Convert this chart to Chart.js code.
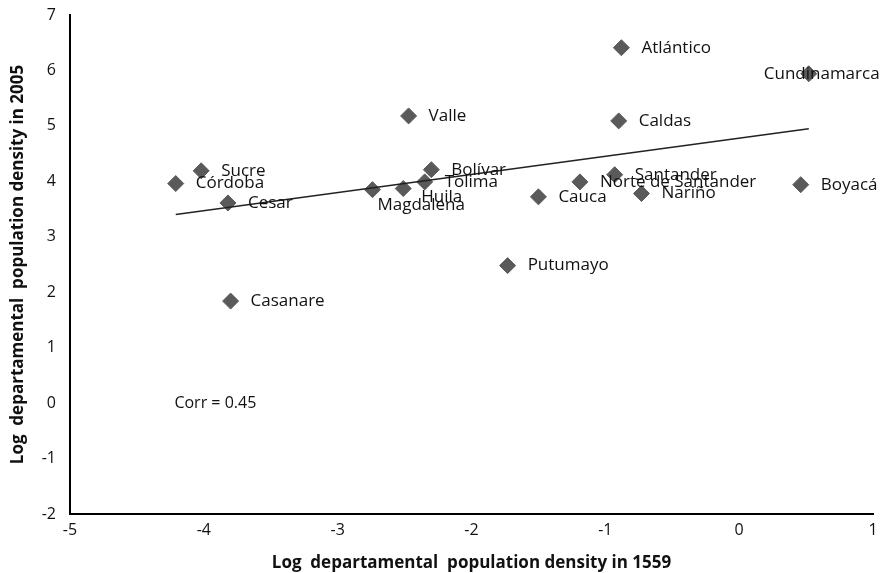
<!DOCTYPE html>
<html>
<head>
<meta charset="utf-8">
<script src="https://cdn.jsdelivr.net/npm/chart.js@4.4.1/dist/chart.umd.min.js"></script>
<style>
  html, body { margin: 0; padding: 0; background: #fff; }
  #wrap { width: 885px; height: 573px; }
</style>
</head>
<body>
<div id="wrap"><canvas id="grafico" width="885" height="573"></canvas></div>
<script>
// Departamentos y sus valores (log densidad 1559 vs 2005)
const departamentos = ['Córdoba', 'Sucre', 'Cesar', 'Casanare', 'Magdalena', 'Huila', 'Tolima', 'Bolívar', 'Valle',
    'Putumayo', 'Cauca', 'Norte de Santander', 'Santander', 'Nariño', 'Caldas', 'Atlántico', 'Cundinamarca', 'Boyacá'];
const densidad1559 = [-4.21, -4.02, -3.82, -3.80, -2.74, -2.51, -2.35, -2.30, -2.47,
    -1.73, -1.50, -1.19, -0.93, -0.73, -0.90, -0.88, 0.52, 0.46];
const densidad2005 = [3.96, 4.19, 3.61, 1.84, 3.85, 3.87, 3.99, 4.21, 5.18,
    2.48, 3.72, 3.99, 4.12, 3.78, 5.09, 6.41, 5.94, 3.94];

// Linea de tendencia (extremos)
const tendenciaX = [-4.21, 0.52];
const tendenciaY = [3.40, 4.95];

const ticksX = [-5, -4, -3, -2, -1, 0, 1];
const ticksY = [-2, -1, 0, 1, 2, 3, 4, 5, 6, 7];
const textoCorr = 'Corr = 0.45';

// Posicion de las etiquetas (desplazamiento respecto al punto)
const desplazamientos = {
    'Magdalena': { dx: 5, dy: 16 },
    'Huila': { dx: 18, dy: 9 },
    'Cundinamarca': { dx: -45, dy: 0 }
};

const fuente = '"Open Sans", "DejaVu Sans", sans-serif';

// Plugin para escribir los nombres y el texto de correlacion
const etiquetasPlugin = {
    id: 'etiquetas',
    afterDatasetsDraw(chart) {
        const ctx = chart.ctx;
        const x = chart.scales.x;
        const y = chart.scales.y;
        ctx.save();
        ctx.font = '17px ' + fuente;
        ctx.fillStyle = '#111';
        ctx.textBaseline = 'middle';
        ctx.textAlign = 'left';
        departamentos.forEach((nombre, i) => {
            const d = desplazamientos[nombre] || { dx: 20, dy: 0 };
            const px = x.getPixelForValue(densidad1559[i]);
            const py = y.getPixelForValue(densidad2005[i]);
            ctx.fillText(nombre, px + d.dx, py + d.dy);
        });
        ctx.font = '16px ' + fuente;
        ctx.fillText(textoCorr, x.getPixelForValue(-4.22), y.getPixelForValue(0));
        ctx.restore();
    }
};

const puntos = densidad1559.map((v, i) => ({ x: v, y: densidad2005[i] }));
const tendencia = tendenciaX.map((v, i) => ({ x: v, y: tendenciaY[i] }));

const ctxGrafico = document.getElementById('grafico').getContext('2d');
new Chart(ctxGrafico, {
    type: 'scatter',
    data: {
        datasets: [
            {
                label: 'Tendencia',
                data: tendencia,
                showLine: true,
                borderColor: '#222',
                borderWidth: 1.5,
                pointRadius: 0,
                fill: false
            },
            {
                label: 'Departamentos',
                data: puntos,
                pointStyle: 'rectRot',
                pointRadius: 8,
                pointHoverRadius: 8,
                backgroundColor: '#5a5a5a',
                borderColor: '#5a5a5a',
                borderWidth: 1
            }
        ]
    },
    options: {
        responsive: false,
        animation: false,
        devicePixelRatio: 1,
        layout: { padding: { top: 15, right: 12, left: 0, bottom: 0 } },
        plugins: {
            legend: { display: false },
            tooltip: { enabled: false }
        },
        scales: {
            x: {
                type: 'linear',
                min: -5,
                max: 1,
                afterBuildTicks: (s) => { s.ticks = ticksX.map(v => ({ value: v })); },
                afterFit: (s) => { s.height = 59; },
                grid: { display: false, drawTicks: false },
                border: { color: '#000', width: 2 },
                ticks: {
                    color: '#111',
                    padding: 7,
                    font: { size: 16, family: fuente }
                },
                title: {
                    display: true,
                    text: 'Log  departamental  population density in 1559',
                    color: '#111',
                    font: { size: 17, weight: 'bold', family: fuente },
                    padding: { top: 2, bottom: 0 }
                }
            },
            y: {
                type: 'linear',
                min: -2,
                max: 7,
                afterBuildTicks: (s) => { s.ticks = ticksY.map(v => ({ value: v })); },
                afterFit: (s) => {
                    s.width = 70;
                    s.paddingTop = 0;
                    s.paddingBottom = 0;
                },
                grid: { display: false, drawTicks: false },
                border: { color: '#000', width: 2 },
                ticks: {
                    color: '#111',
                    padding: 14,
                    font: { size: 16, family: fuente }
                },
                title: {
                    display: true,
                    text: 'Log  departamental  population density in 2005',
                    color: '#111',
                    font: { size: 17, weight: 'bold', family: fuente },
                    padding: { top: 8, bottom: 0 }
                }
            }
        }
    },
    plugins: [etiquetasPlugin]
});
</script>
</body>
</html>
